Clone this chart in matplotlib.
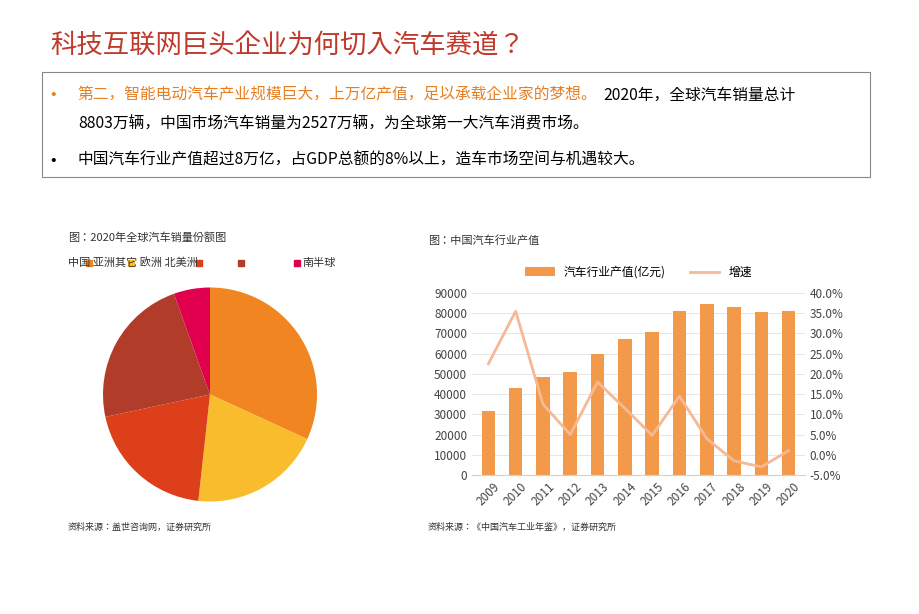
import numpy as np
import matplotlib.pyplot as plt
from matplotlib.patches import Rectangle
from matplotlib.ticker import FuncFormatter

plt.rcParams['font.family'] = ['Noto Sans CJK SC', 'Noto Sans CJK JP', 'DejaVu Sans']

# pie data
regions = ['中国', '亚洲其它', '欧洲', '北美洲', '南半球']
shares = [32, 20, 20, 23, 5.5]
pie_colors = ['#f08522', '#f8bc2c', '#dc3f1a', '#b23c2a', '#e0004e']

# bar / line data
years = ['2009', '2010', '2011', '2012', '2013', '2014', '2015', '2016',
         '2017', '2018', '2019', '2020']
output = [31500, 43000, 48500, 51000, 60000, 67500, 70500, 81000,
          84500, 83000, 80500, 81000]
growth = [22.5, 35.5, 12.5, 5.0, 18.0, 11.5, 4.8, 14.5, 4.0, -1.5, -3.0, 1.0]

fig = plt.figure(figsize=(9.2, 6.14), dpi=100)
W, H = 920, 614

def fx(x):
    return x / W

def fy(y):
    return 1 - y / H

fig.text(fx(50), fy(45), '科技互联网巨头企业为何切入汽车赛道？', fontsize=19,
         color='#c0392b', va='center')
fig.patches.append(Rectangle((fx(42), fy(177)), fx(870) - fx(42), fy(72) - fy(177),
                             transform=fig.transFigure, fill=False,
                             edgecolor='#888888', lw=0.8))
fig.text(fx(50), fy(95), '•', color='#e67e22', fontsize=12, va='center')
fig.text(fx(78), fy(95), '第二，智能电动汽车产业规模巨大，上万亿产值，足以承载企业家的梦想。',
         color='#e67e22', fontsize=11.3, va='center')
fig.text(fx(603), fy(95), '2020年，全球汽车销量总计', color='black', fontsize=11.3, va='center')
fig.text(fx(78), fy(124), '8803万辆，中国市场汽车销量为2527万辆，为全球第一大汽车消费市场。',
         color='black', fontsize=11.3, va='center')
fig.text(fx(50), fy(160), '•', color='black', fontsize=12, va='center')
fig.text(fx(78), fy(160), '中国汽车行业产值超过8万亿，占GDP总额的8%以上，造车市场空间与机遇较大。',
         color='black', fontsize=11.3, va='center')

# pie
fig.text(fx(68), fy(238), '图：2020年全球汽车销量份额图', fontsize=8, color='#333333', va='center')
ax1 = fig.add_axes([fx(103), fy(502), fx(317) - fx(103), fy(287) - fy(502)])
ax1.pie(shares, colors=pie_colors, startangle=90, counterclock=False)
ax1.set_xlim(-1, 1)
ax1.set_ylim(-1, 1)
ax1.set_aspect('equal')
fig.text(fx(68), fy(262), '中国 亚洲其它 欧洲 北美洲', fontsize=8, color='#333333', va='center')
for x, c in zip([86, 128, 196, 238, 294], pie_colors):
    fig.patches.append(Rectangle((fx(x), fy(266)), fx(6), fy(0) - fy(6),
                                 transform=fig.transFigure, color=c))
fig.text(fx(302), fy(263), '南半球', fontsize=8, color='#333333', va='center')
fig.text(fx(68), fy(527), '资料来源：盖世咨询网，证券研究所', fontsize=6.5, color='#333333', va='center')

# bar + line
fig.text(fx(428), fy(240), '图：中国汽车行业产值', fontsize=8, color='#333333', va='center')
ax2 = fig.add_axes([fx(472), fy(475), fx(805) - fx(472), fy(293) - fy(475)])
x = np.arange(len(years))
ax2.bar(x, output, width=0.5, color='#f39a4a', label='汽车行业产值(亿元)')
ax2.set_ylim(0, 90000)
ax2.set_yticks(range(0, 90001, 10000))
ax2.set_xlim(-0.6, len(years) - 0.4)
ax2.set_xticks(x)
ax2.set_xticklabels(years, rotation=45, fontsize=8.5, color='#444444')
ax2.tick_params(axis='y', labelsize=8.5, colors='#444444', length=0)
ax2.tick_params(axis='x', length=0)
ax2.grid(axis='y', color='#e6e6e6', lw=0.7)
ax2.set_axisbelow(True)
for s in ['top', 'right', 'left']:
    ax2.spines[s].set_visible(False)
ax2.spines['bottom'].set_color('#d0d0d0')

ax3 = ax2.twinx()
ax3.plot(x, growth, color='#f6b895', lw=2, label='增速')
ax3.set_ylim(-5, 40)
ax3.set_yticks(np.arange(-5, 40.1, 5))
ax3.yaxis.set_major_formatter(FuncFormatter(lambda v, p: f'{v:.1f}%'))
ax3.tick_params(axis='y', labelsize=8.5, colors='#444444', length=0)
for s in ['top', 'right', 'left', 'bottom']:
    ax3.spines[s].set_visible(False)

h1, l1 = ax2.get_legend_handles_labels()
h2, l2 = ax3.get_legend_handles_labels()
ax2.legend(h1 + h2, l1 + l2, loc='lower center', bbox_to_anchor=(0.5, 1.02),
           ncol=2, frameon=False, fontsize=8.5, handlelength=2.5)
fig.text(fx(428), fy(527), '资料来源：《中国汽车工业年鉴》，证券研究所', fontsize=6.5,
         color='#333333', va='center')

fig.savefig('out.png', dpi=100)
